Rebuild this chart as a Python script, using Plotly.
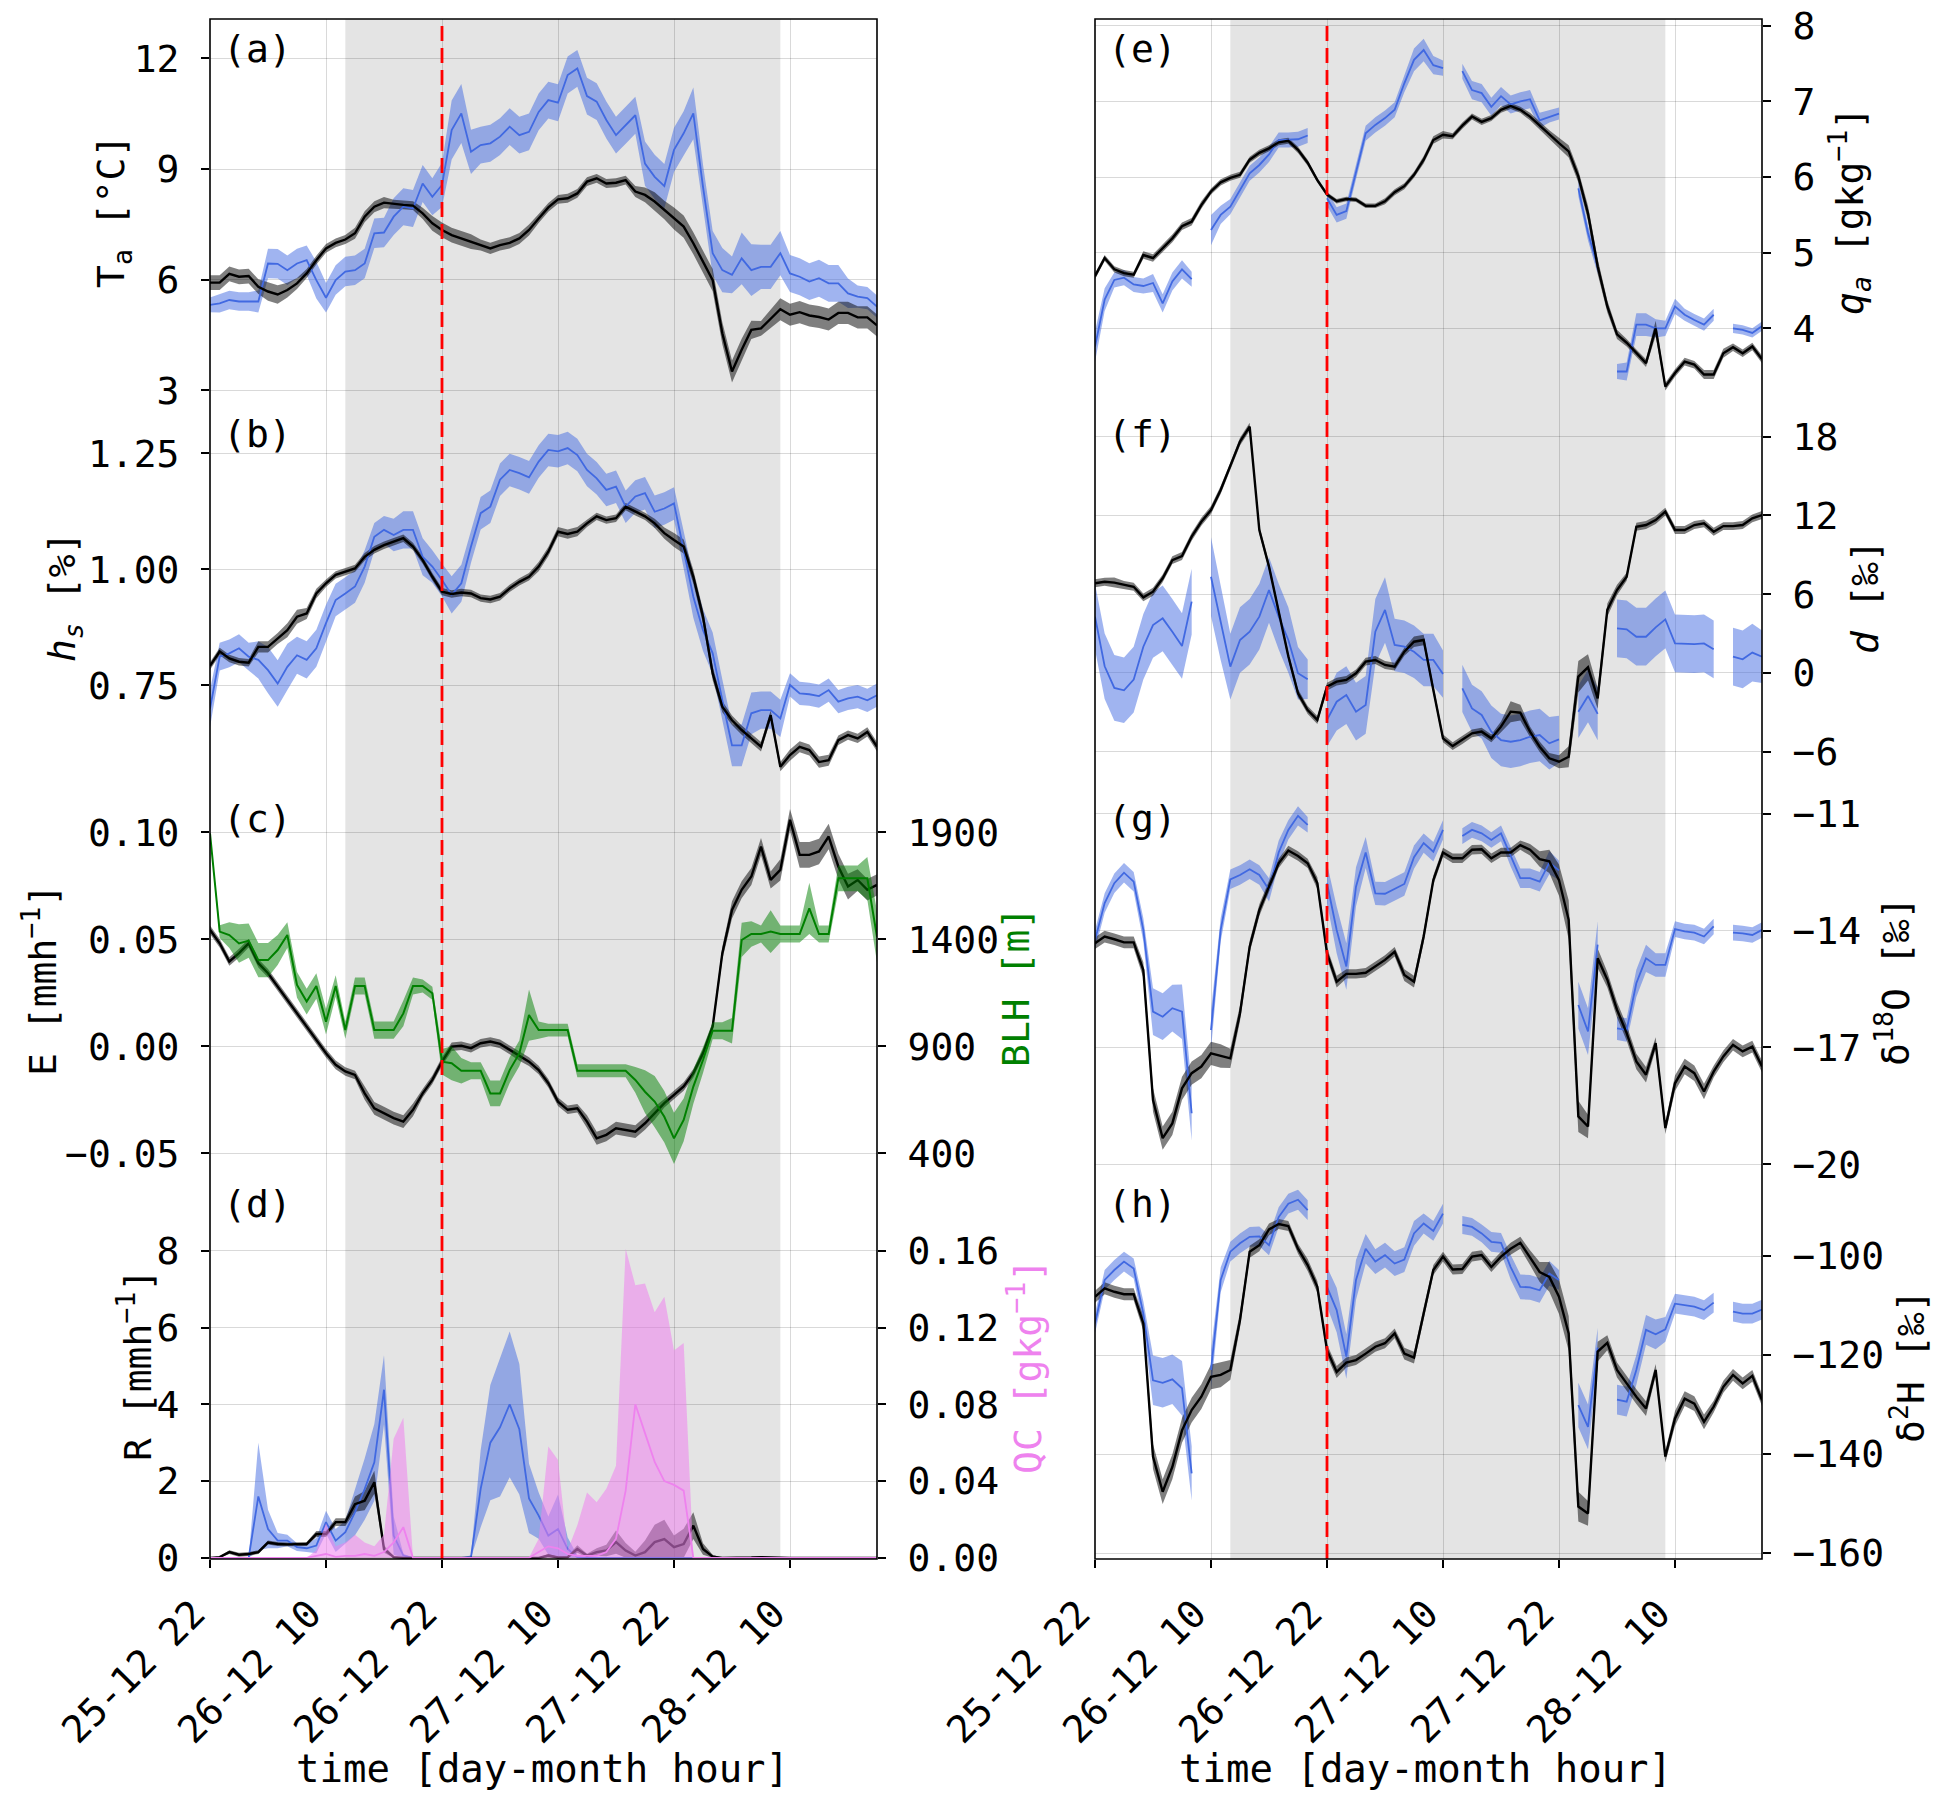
import numpy as np
import pandas as pd
import plotly.graph_objects as go

nan = float("nan")
W, H = 1943, 1801
# the page body keeps an 8px margin, so the figure itself is drawn a bit smaller
PAD = 8
FW, FH = W - 2 * PAD, H - 2 * PAD

# hourly time axis, 25-12 22h ... 28-12 19h
times = pd.date_range("2021-12-25 22:00", periods=70, freq="h")
tick_labels = ["25-12 22", "26-12 10", "26-12 22", "27-12 10", "27-12 22", "28-12 10"]
event_start = "2021-12-26 12:00"
event_end = "2021-12-28 09:00"
red_time = "2021-12-26 22:00"

# (a) air temperature
ta_obs = [5.32, 5.36, 5.45, 5.41, 5.41, 5.41, 6.44, 6.43, 6.26, 6.44,
          6.53, 5.99, 5.51, 5.99, 6.22, 6.26, 6.44, 7.26, 7.28, 7.71,
          7.98, 7.93, 8.61, 8.25, 8.57, 10.06, 10.51, 9.47, 9.65, 9.70,
          9.88, 10.15, 9.92, 10.01, 10.55, 10.87, 10.80, 11.55, 11.73, 10.98,
          10.83, 10.33, 9.92, 10.19, 10.46, 9.15, 8.79, 8.54, 9.52, 9.97,
          10.51, 8.52, 6.72, 6.26, 6.13, 6.58, 6.26, 6.35, 6.35, 6.72,
          6.17, 6.08, 5.95, 6.04, 5.90, 5.90, 5.63, 5.54, 5.50, 5.27]
ta_obs_sd = [0.2, 0.25, 0.25, 0.25, 0.25, 0.3, 0.4, 0.4, 0.4, 0.4,
             0.4, 0.5, 0.4, 0.4, 0.4, 0.4, 0.4, 0.4, 0.4, 0.5,
             0.5, 0.5, 0.5, 0.5, 0.6, 0.8, 0.8, 0.6, 0.5, 0.5,
             0.5, 0.5, 0.5, 0.5, 0.5, 0.5, 0.5, 0.5, 0.5, 0.5,
             0.5, 0.5, 0.5, 0.5, 0.5, 0.6, 0.6, 0.6, 0.6, 0.6,
             0.7, 0.6, 0.6, 0.6, 0.5, 0.7, 0.7, 0.6, 0.6, 0.6,
             0.5, 0.5, 0.5, 0.5, 0.5, 0.5, 0.4, 0.3, 0.3, 0.3]
ta_mod = [5.92, 5.92, 6.16, 6.08, 6.10, 5.81, 5.68, 5.60, 5.72, 5.90,
          6.17, 6.53, 6.85, 7.00, 7.09, 7.26, 7.71, 7.98, 8.09, 8.05,
          8.03, 8.01, 7.80, 7.53, 7.35, 7.21, 7.12, 7.03, 6.94, 6.85,
          6.94, 7.00, 7.12, 7.35, 7.66, 7.96, 8.18, 8.21, 8.34, 8.66,
          8.75, 8.61, 8.63, 8.70, 8.39, 8.30, 8.12, 7.89, 7.66, 7.44,
          6.99, 6.49, 5.99, 4.55, 3.51, 4.10, 4.64, 4.68, 4.95, 5.20,
          5.05, 5.12, 5.03, 4.99, 4.92, 5.10, 5.10, 4.98, 4.98, 4.76]
ta_mod_sd = [0.2, 0.2, 0.2, 0.2, 0.2, 0.2, 0.25, 0.25, 0.2, 0.15,
             0.12, 0.12, 0.12, 0.12, 0.12, 0.15, 0.15, 0.15, 0.15, 0.12,
             0.12, 0.12, 0.15, 0.2, 0.2, 0.2, 0.2, 0.2, 0.15, 0.15,
             0.15, 0.15, 0.15, 0.15, 0.12, 0.12, 0.12, 0.12, 0.12, 0.12,
             0.12, 0.12, 0.12, 0.12, 0.15, 0.2, 0.25, 0.25, 0.3, 0.3,
             0.3, 0.3, 0.3, 0.3, 0.3, 0.3, 0.25, 0.2, 0.25, 0.3,
             0.3, 0.3, 0.3, 0.3, 0.3, 0.3, 0.3, 0.3, 0.3, 0.3]

# (b) hs
hs_obs = [0.70, 0.812, 0.819, 0.830, 0.812, 0.805, 0.783, 0.754, 0.790, 0.815,
          0.805, 0.830, 0.884, 0.934, 0.948, 0.963, 1.006, 1.070, 1.085, 1.074,
          1.085, 1.085, 1.027, 1.006, 0.977, 0.945, 0.970, 1.049, 1.121, 1.135,
          1.193, 1.214, 1.207, 1.198, 1.232, 1.257, 1.254, 1.261, 1.246, 1.214,
          1.196, 1.171, 1.178, 1.135, 1.157, 1.164, 1.124, 1.131, 1.142, 1.042,
          0.941, 0.869, 0.819, 0.718, 0.621, 0.621, 0.690, 0.697, 0.697, 0.679,
          0.751, 0.733, 0.731, 0.727, 0.740, 0.715, 0.722, 0.726, 0.718, 0.729]
hs_obs_sd = [0.04, 0.03, 0.03, 0.03, 0.03, 0.04, 0.05, 0.05, 0.05, 0.04,
             0.04, 0.04, 0.04, 0.035, 0.035, 0.035, 0.035, 0.03, 0.03, 0.035,
             0.04, 0.04, 0.04, 0.035, 0.035, 0.04, 0.04, 0.035, 0.035, 0.035,
             0.035, 0.035, 0.035, 0.035, 0.035, 0.035, 0.035, 0.035, 0.035, 0.035,
             0.035, 0.035, 0.035, 0.035, 0.035, 0.035, 0.035, 0.035, 0.035, 0.04,
             0.045, 0.045, 0.045, 0.045, 0.045, 0.045, 0.045, 0.04, 0.04, 0.04,
             0.025, 0.025, 0.025, 0.025, 0.025, 0.025, 0.025, 0.025, 0.025, 0.025]
hs_mod = [0.792, 0.823, 0.808, 0.801, 0.799, 0.833, 0.833, 0.851, 0.869, 0.898,
          0.905, 0.948, 0.970, 0.988, 0.995, 1.002, 1.027, 1.042, 1.052, 1.060,
          1.067, 1.049, 1.020, 0.984, 0.952, 0.947, 0.950, 0.948, 0.938, 0.935,
          0.941, 0.959, 0.973, 0.984, 1.006, 1.038, 1.081, 1.076, 1.081, 1.099,
          1.114, 1.106, 1.110, 1.135, 1.124, 1.114, 1.099, 1.078, 1.063, 1.049,
          0.984, 0.898, 0.776, 0.704, 0.675, 0.654, 0.636, 0.618, 0.686, 0.575,
          0.600, 0.618, 0.611, 0.585, 0.589, 0.632, 0.643, 0.636, 0.650, 0.618]
hs_mod_sd = [0.008, 0.008, 0.008, 0.008, 0.008, 0.012, 0.012, 0.012, 0.015, 0.015,
             0.012, 0.01, 0.008, 0.008, 0.008, 0.008, 0.008, 0.008, 0.008, 0.008,
             0.008, 0.008, 0.008, 0.008, 0.008, 0.008, 0.008, 0.008, 0.008, 0.008,
             0.008, 0.008, 0.008, 0.008, 0.01, 0.01, 0.01, 0.01, 0.01, 0.008,
             0.008, 0.008, 0.008, 0.008, 0.008, 0.008, 0.01, 0.012, 0.015, 0.015,
             0.015, 0.015, 0.015, 0.012, 0.01, 0.01, 0.01, 0.01, 0.01, 0.01,
             0.012, 0.012, 0.012, 0.012, 0.012, 0.01, 0.01, 0.01, 0.01, 0.01]

# (c) evaporation and boundary layer height
e_mod = [0.0544, 0.0481, 0.0396, 0.0435, 0.0481, 0.0388, 0.0341, 0.0279, 0.0217, 0.0154,
         0.0092, 0.0030, -0.0033, -0.0087, -0.0118, -0.0134, -0.0220, -0.0290, -0.0313, -0.0336,
         -0.0352, -0.0297, -0.0220, -0.0157, -0.0072, -0.0002, 0.0002, -0.0009, 0.0014, 0.0022,
         0.0011, -0.0017, -0.0048, -0.0072, -0.0111, -0.0173, -0.0259, -0.0297, -0.0290, -0.0352,
         -0.0430, -0.0414, -0.0383, -0.0391, -0.0399, -0.0360, -0.0313, -0.0266, -0.0227, -0.0188,
         -0.0126, -0.0033, 0.0092, 0.0435, 0.0637, 0.0731, 0.0793, 0.0933, 0.0777, 0.0824,
         0.1058, 0.0894, 0.0894, 0.0910, 0.0980, 0.0840, 0.0746, 0.0777, 0.0731, 0.0754]
e_mod_sd = [0.002, 0.002, 0.002, 0.002, 0.002, 0.002, 0.002, 0.002, 0.002, 0.002,
            0.002, 0.002, 0.002, 0.002, 0.002, 0.002, 0.003, 0.003, 0.003, 0.003,
            0.003, 0.003, 0.002, 0.002, 0.002, 0.002, 0.002, 0.002, 0.002, 0.002,
            0.002, 0.002, 0.002, 0.002, 0.002, 0.002, 0.002, 0.002, 0.002, 0.003,
            0.003, 0.003, 0.003, 0.003, 0.003, 0.003, 0.003, 0.002, 0.002, 0.002,
            0.002, 0.002, 0.002, 0.003, 0.004, 0.004, 0.004, 0.004, 0.004, 0.005,
            0.005, 0.006, 0.006, 0.006, 0.006, 0.006, 0.006, 0.005, 0.005, 0.005]
blh = [1895, 1436, 1420, 1381, 1394, 1303, 1303, 1350, 1420, 1187,
       1109, 1182, 1015, 1182, 976, 1182, 1182, 976, 976, 976,
       1054, 1182, 1182, 1148, 828, 821, 786, 786, 786, 680,
       680, 789, 867, 1046, 976, 976, 976, 976, 786, 786,
       786, 786, 786, 786, 743, 688, 642, 571, 470, 556,
       712, 836, 973, 973, 973, 1397, 1425, 1425, 1436, 1425,
       1425, 1425, 1545, 1425, 1425, 1685, 1685, 1685, 1685, 1412]
blh_sd = [0, 30, 60, 90, 80, 80, 80, 70, 60, 60,
          60, 60, 60, 50, 40, 40, 40, 40, 40, 40,
          60, 40, 30, 30, 60, 80, 60, 40, 40, 60,
          60, 60, 60, 120, 40, 30, 30, 30, 30, 30,
          30, 30, 30, 30, 60, 100, 120, 120, 120, 100,
          80, 60, 40, 40, 60, 80, 60, 40, 100, 40,
          40, 40, 120, 40, 40, 60, 60, 60, 100, 120]

# (d) rain and cloud water
r_obs = [0, 0, 0, 0, 0, 1.6, 0.75, 0.45, 0.45, 0.28,
         0.25, 0.32, 0.93, 0.45, 0.67, 1.19, 1.79, 2.49, 4.38, 0.58,
         0.06, 0, 0, 0, 0, 0, 0, 0.02, 1.8, 3.0,
         3.4, 4.0, 3.35, 1.55, 1.1, 0.58, 0.75, 0.23, 0.02, 0,
         0, 0, 0, 0, 0, 0, 0, 0, 0, 0,
         0, 0, 0, 0, 0, 0, 0, 0, 0, 0,
         0, 0, 0, 0, 0, 0, 0, 0, 0, 0]
r_obs_sd = [0, 0, 0, 0, 0, 1.4, 0.5, 0.2, 0.15, 0.1,
            0.1, 0.2, 0.3, 0.3, 0.3, 0.6, 0.8, 1.0, 0.9, 0.5,
            0.05, 0, 0, 0, 0, 0, 0, 0.05, 1.0, 1.5,
            1.8, 1.9, 1.7, 0.9, 0.6, 0.5, 0.9, 0.3, 0.05, 0,
            0, 0, 0, 0, 0, 0, 0, 0, 0, 0,
            0, 0, 0, 0, 0, 0, 0, 0, 0, 0,
            0, 0, 0, 0, 0, 0, 0, 0, 0, 0]
r_mod = [0, 0.02, 0.15, 0.08, 0.1, 0.15, 0.4, 0.36, 0.35, 0.35,
         0.36, 0.62, 0.62, 0.93, 0.93, 1.4, 1.49, 1.97, 0.23, 0.02,
         0, 0, 0, 0, 0, 0, 0, 0, 0, 0,
         0, 0, 0, 0, 0, 0.06, 0.01, 0.02, 0.23, 0.06,
         0.15, 0.19, 0.41, 0.19, 0.06, 0.15, 0.41, 0.49, 0.28, 0.36,
         0.84, 0.23, 0.03, 0, 0, 0.01, 0.01, 0.02, 0.01, 0,
         0, 0, 0, 0, 0, 0, 0, 0, 0, 0]
r_mod_sd = [0, 0.02, 0.05, 0.05, 0.05, 0.05, 0.05, 0.05, 0.05, 0.05,
            0.05, 0.08, 0.08, 0.1, 0.1, 0.2, 0.25, 0.3, 0.1, 0.02,
            0, 0, 0, 0, 0, 0, 0, 0, 0, 0,
            0, 0, 0, 0, 0, 0.05, 0.02, 0.02, 0.1, 0.05,
            0.1, 0.15, 0.3, 0.2, 0.1, 0.3, 0.45, 0.5, 0.3, 0.4,
            0.35, 0.15, 0.05, 0, 0, 0, 0, 0, 0, 0,
            0, 0, 0, 0, 0, 0, 0, 0, 0, 0]
qc = [0, 0, 0, 0, 0, 0, 0, 0, 0, 0,
      0, 0.001, 0.002, 0.0005, 0.001, 0.001, 0.002, 0.001, 0.003, 0.008,
      0.016, 0, 0, 0, 0, 0, 0, 0, 0, 0,
      0, 0, 0, 0, 0.003, 0.006, 0.005, 0.002, 0.001, 0.001,
      0.001, 0.003, 0.01, 0.035, 0.08, 0.065, 0.05, 0.04, 0.038, 0.035,
      0, 0, 0, 0, 0, 0, 0, 0, 0, 0,
      0, 0, 0, 0, 0, 0, 0, 0, 0, 0]
qc_max = [0, 0, 0, 0, 0, 0, 0, 0, 0, 0,
          0, 0.004, 0.018, 0.006, 0.008, 0.012, 0.008, 0.006, 0.012, 0.062,
          0.073, 0, 0, 0, 0, 0, 0, 0, 0, 0,
          0, 0, 0, 0, 0.01, 0.058, 0.051, 0.004, 0.017, 0.034,
          0.029, 0.036, 0.048, 0.161, 0.142, 0.143, 0.128, 0.136, 0.108, 0.112,
          0, 0, 0, 0, 0, 0, 0, 0, 0, 0,
          0, 0, 0, 0, 0, 0, 0, 0, 0, 0]

# (e) specific humidity
q_obs = [3.76, 4.38, 4.64, 4.67, 4.58, 4.56, 4.60, 4.33, 4.62, 4.78,
         4.65, nan, 5.30, 5.50, 5.61, 5.83, 6.05, 6.16, 6.30, 6.49,
         6.49, 6.50, 6.55, nan, 5.72, 5.50, 5.55, 6.07, 6.58, 6.69,
         6.78, 6.89, 7.24, 7.55, 7.68, 7.48, 7.44, nan, 7.40, 7.15,
         7.11, 6.93, 7.07, 6.96, 7.00, 7.03, 6.75, 6.80, 6.84, nan,
         5.85, 5.26, 4.82, nan, 3.43, 3.43, 4.05, 4.05, 4.00, 4.00,
         4.29, 4.18, 4.11, 4.05, 4.18, nan, 4.00, 3.98, 3.94, 4.03]
q_obs_sd = [0.2, 0.15, 0.1, 0.1, 0.1, 0.1, 0.12, 0.12, 0.12, 0.12,
            0.1, 0, 0.2, 0.12, 0.1, 0.1, 0.1, 0.1, 0.1, 0.1,
            0.1, 0.1, 0.1, 0, 0.1, 0.1, 0.1, 0.1, 0.1, 0.1,
            0.1, 0.1, 0.12, 0.15, 0.15, 0.12, 0.1, 0, 0.1, 0.12,
            0.12, 0.12, 0.12, 0.12, 0.12, 0.12, 0.1, 0.08, 0.08, 0,
            0.1, 0.1, 0.1, 0, 0.1, 0.12, 0.15, 0.15, 0.12, 0.1,
            0.1, 0.08, 0.08, 0.08, 0.08, 0, 0.06, 0.06, 0.06, 0.06]
q_mod = [4.69, 4.93, 4.78, 4.73, 4.71, 4.97, 4.93, 5.06, 5.19, 5.35,
         5.41, 5.63, 5.81, 5.93, 5.99, 6.03, 6.23, 6.32, 6.38, 6.46,
         6.48, 6.36, 6.19, 5.96, 5.77, 5.68, 5.71, 5.70, 5.62, 5.62,
         5.68, 5.80, 5.88, 6.03, 6.23, 6.49, 6.56, 6.54, 6.68, 6.80,
         6.73, 6.78, 6.89, 6.94, 6.89, 6.80, 6.68, 6.56, 6.45, 6.34,
         6.01, 5.52, 4.82, 4.29, 3.92, 3.81, 3.67, 3.54, 4.00, 3.23,
         3.41, 3.56, 3.52, 3.39, 3.39, 3.67, 3.75, 3.67, 3.76, 3.59]
q_mod_sd = [0.04, 0.04, 0.04, 0.04, 0.04, 0.05, 0.05, 0.05, 0.05, 0.05,
            0.05, 0.05, 0.04, 0.04, 0.04, 0.04, 0.04, 0.04, 0.04, 0.04,
            0.04, 0.04, 0.04, 0.03, 0.03, 0.03, 0.03, 0.03, 0.03, 0.03,
            0.04, 0.04, 0.04, 0.04, 0.05, 0.05, 0.05, 0.04, 0.04, 0.04,
            0.04, 0.04, 0.04, 0.04, 0.04, 0.05, 0.05, 0.06, 0.07, 0.08,
            0.08, 0.1, 0.1, 0.08, 0.06, 0.05, 0.05, 0.05, 0.1, 0.05,
            0.05, 0.05, 0.05, 0.06, 0.06, 0.06, 0.05, 0.05, 0.05, 0.05]

# (f) deuterium excess
d_obs = [4.29, 0.51, -1.14, -1.32, -0.51, 2.00, 3.65, 4.16, 3.14, 2.05,
         5.43, nan, 7.33, 3.78, 0.48, 2.51, 3.14, 4.29, 6.32, 4.29,
         2.51, -0.02, -0.48, nan, -3.58, -2.19, -1.68, -2.95, -2.44, 3.14,
         4.80, 2.13, 2.00, 1.62, 0.99, 0.99, -0.08, nan, -1.17, -2.70,
         -3.20, -4.47, -5.11, -5.24, -5.11, -4.86, -4.73, -5.36, -5.06, nan,
         -2.95, -1.75, -3.12, nan, 3.40, 3.32, 2.76, 2.76, 3.47, 4.08,
         2.25, 2.20, 2.20, 2.25, 1.80, nan, 1.24, 1.04, 1.55, 1.24]
d_obs_sd = [2.5, 2.5, 2.5, 2.5, 2.5, 2.5, 2.5, 2.5, 2.5, 2.5,
            2.5, 0, 3.0, 2.8, 2.5, 2.5, 2.5, 2.5, 2.5, 2.5,
            2.5, 2.0, 1.5, 0, 2.0, 2.2, 2.2, 2.2, 2.2, 2.5,
            2.5, 2.0, 2.0, 2.0, 2.0, 2.0, 1.8, 0, 1.8, 1.8,
            1.8, 2.0, 2.0, 2.0, 2.0, 2.0, 2.0, 2.0, 1.8, 0,
            2.0, 2.0, 2.0, 0, 2.2, 2.2, 2.2, 2.2, 2.2, 2.2,
            2.2, 2.2, 2.2, 2.2, 2.2, 0, 2.2, 2.2, 2.2, 2.0]
d_mod = [6.83, 6.95, 6.88, 6.70, 6.57, 5.76, 6.19, 7.21, 8.60, 8.91,
         10.38, 11.52, 12.41, 13.94, 15.71, 17.62, 18.76, 10.89, 8.10, 4.80,
         1.27, -1.55, -2.82, -3.58, -1.04, -0.66, -0.53, -0.03, 0.86, 0.99,
         0.61, 0.48, 1.62, 2.38, 2.51, -1.30, -4.98, -5.57, -5.11, -4.60,
         -4.47, -4.98, -4.09, -2.95, -3.03, -4.47, -5.62, -6.50, -6.76, -6.38,
         -0.28, 0.43, -1.93, 4.80, 6.32, 7.33, 11.14, 11.27, 11.65, 12.29,
         10.89, 10.89, 11.27, 11.40, 10.76, 11.19, 11.19, 11.27, 11.78, 12.03]
d_mod_sd = [0.3, 0.3, 0.4, 0.3, 0.3, 0.3, 0.3, 0.3, 0.3, 0.3,
            0.3, 0.3, 0.3, 0.3, 0.3, 0.3, 0.3, 0.3, 0.3, 0.3,
            0.3, 0.3, 0.3, 0.3, 0.3, 0.3, 0.3, 0.3, 0.3, 0.3,
            0.3, 0.3, 0.3, 0.4, 0.4, 0.4, 0.3, 0.3, 0.3, 0.3,
            0.3, 0.3, 0.4, 0.8, 0.6, 0.4, 0.4, 0.4, 0.5, 0.8,
            1.2, 1.0, 0.8, 0.5, 0.4, 0.3, 0.3, 0.3, 0.3, 0.3,
            0.3, 0.3, 0.3, 0.3, 0.3, 0.3, 0.3, 0.3, 0.3, 0.3]

# (g) d18O
o18_obs = [-14.24, -13.29, -12.78, -12.51, -12.74, -13.98, -16.08, -16.21, -15.99, -16.08,
           -18.69, nan, -16.55, -13.98, -12.68, -12.57, -12.42, -12.57, -12.95, -11.99,
           -11.41, -11.05, -11.28, nan, -12.78, -13.98, -14.92, -12.87, -11.99, -13.04,
           -13.05, -12.93, -12.80, -12.11, -11.75, -11.97, -11.41, nan, -11.57, -11.41,
           -11.50, -11.67, -11.50, -12.10, -12.65, -12.65, -12.74, -12.25, -12.45, nan,
           -15.91, -16.59, -14.36, nan, -16.51, -16.55, -15.35, -14.71, -14.88, -14.88,
           -13.96, -14.02, -14.05, -14.15, -13.89, nan, -14.05, -14.07, -14.11, -13.98]
o18_obs_sd = [0.25, 0.25, 0.25, 0.25, 0.25, 0.3, 0.6, 0.6, 0.6, 0.7,
              0.7, 0, 0.5, 0.3, 0.25, 0.25, 0.25, 0.25, 0.3, 0.3,
              0.25, 0.25, 0.2, 0, 0.5, 0.6, 0.6, 0.5, 0.4, 0.3,
              0.3, 0.3, 0.3, 0.3, 0.25, 0.25, 0.25, 0, 0.2, 0.2,
              0.2, 0.2, 0.2, 0.25, 0.25, 0.25, 0.25, 0.3, 0.25, 0,
              0.6, 0.6, 0.6, 0, 0.3, 0.3, 0.35, 0.35, 0.3, 0.3,
              0.2, 0.2, 0.2, 0.2, 0.2, 0, 0.2, 0.2, 0.2, 0.2]
o18_mod = [-14.32, -14.15, -14.22, -14.30, -14.30, -15.01, -18.35, -19.33, -18.95, -18.05,
           -17.66, -17.49, -17.15, -17.22, -17.28, -16.12, -14.41, -13.47, -12.87, -12.27,
           -11.94, -12.08, -12.27, -12.78, -14.58, -15.31, -15.11, -15.11, -15.08, -14.92,
           -14.75, -14.54, -15.14, -15.31, -14.15, -12.70, -11.99, -12.14, -12.14, -11.92,
           -11.91, -12.14, -11.99, -11.99, -11.80, -11.92, -12.16, -12.22, -12.70, -13.72,
           -18.77, -19.03, -14.71, -15.26, -16.03, -16.63, -17.36, -17.70, -16.89, -19.07,
           -17.92, -17.49, -17.66, -18.13, -17.62, -17.23, -16.93, -17.10, -16.98, -17.49]
o18_mod_sd = [0.15, 0.15, 0.15, 0.15, 0.15, 0.2, 0.3, 0.3, 0.3, 0.3,
              0.3, 0.3, 0.3, 0.3, 0.25, 0.2, 0.15, 0.15, 0.15, 0.12,
              0.12, 0.12, 0.12, 0.15, 0.15, 0.15, 0.12, 0.12, 0.12, 0.12,
              0.12, 0.12, 0.15, 0.15, 0.15, 0.12, 0.12, 0.12, 0.12, 0.12,
              0.12, 0.12, 0.12, 0.12, 0.12, 0.15, 0.2, 0.3, 0.4, 0.5,
              0.4, 0.3, 0.25, 0.2, 0.2, 0.2, 0.2, 0.2, 0.15, 0.15,
              0.2, 0.2, 0.2, 0.2, 0.15, 0.15, 0.15, 0.15, 0.15, 0.15]

# (h) d2H
h2_obs = [-113.6, -104.8, -102.8, -101.1, -102.5, -111.6, -125.1, -125.6, -124.9, -126.7,
          -143.9, nan, -123.0, -104.8, -99.1, -97.4, -96.1, -96.0, -97.8, -92.1,
          -89.4, -88.6, -90.7, nan, -106.2, -110.9, -120.3, -104.8, -98.5, -101.1,
          -99.8, -101.5, -100.7, -95.4, -93.4, -94.9, -91.4, nan, -93.7, -94.1,
          -95.4, -97.1, -97.3, -102.2, -106.2, -106.3, -106.9, -103.5, -104.8, nan,
          -130.1, -134.5, -118.5, nan, -129.0, -129.4, -123.0, -114.9, -115.8, -114.8,
          -109.6, -109.9, -110.2, -110.9, -109.4, nan, -111.2, -111.6, -111.6, -110.8]
h2_obs_sd = [2.0, 2.0, 2.0, 2.0, 2.0, 2.5, 5.0, 5.0, 5.0, 5.5,
             5.5, 0, 4.0, 2.5, 2.0, 2.0, 2.0, 2.0, 2.0, 2.0,
             2.0, 2.0, 2.0, 0, 4.0, 4.5, 4.5, 4.0, 3.0, 2.5,
             2.5, 2.5, 2.5, 2.5, 2.0, 2.0, 2.0, 0, 1.8, 1.8,
             1.8, 2.0, 2.0, 2.5, 2.5, 2.5, 2.5, 2.5, 2.0, 0,
             4.5, 4.5, 4.0, 0, 3.0, 3.0, 3.0, 3.0, 3.0, 2.5,
             2.0, 2.0, 2.0, 2.0, 2.0, 0, 2.0, 2.0, 2.0, 2.0]
h2_mod = [-108.2, -106.5, -107.2, -107.7, -107.7, -113.6, -140.5, -147.6, -142.6, -135.2,
          -131.1, -128.4, -124.4, -124.0, -123.0, -112.9, -99.1, -97.8, -94.6, -93.5,
          -93.9, -98.5, -101.8, -106.2, -119.0, -123.4, -121.5, -121.0, -119.7, -118.3,
          -117.6, -115.6, -119.7, -120.5, -111.6, -102.8, -100.1, -102.7, -102.6, -100.1,
          -99.8, -102.2, -100.1, -98.5, -97.3, -100.3, -103.2, -104.2, -108.2, -115.6,
          -150.6, -152.0, -119.3, -117.5, -123.0, -125.7, -128.4, -130.8, -123.0, -140.5,
          -132.8, -128.8, -129.8, -133.5, -130.4, -126.4, -124.0, -125.7, -124.2, -129.1]
h2_mod_sd = [1.2, 1.2, 1.2, 1.2, 1.2, 1.5, 2.5, 2.5, 2.5, 2.5,
             2.5, 2.5, 2.5, 2.5, 2.0, 1.5, 1.2, 1.2, 1.2, 1.0,
             1.0, 1.0, 1.2, 1.2, 1.2, 1.2, 1.0, 1.0, 1.0, 1.0,
             1.0, 1.0, 1.2, 1.2, 1.2, 1.0, 1.0, 1.0, 1.0, 1.0,
             1.0, 1.0, 1.0, 1.2, 1.2, 1.5, 2.0, 3.0, 3.5, 3.5,
             3.0, 2.5, 2.0, 1.5, 1.5, 1.5, 1.5, 1.5, 1.2, 1.2,
             1.5, 1.5, 1.5, 1.5, 1.2, 1.2, 1.2, 1.2, 1.2, 1.2]

BLUE = "royalblue"
BLUE_F = "rgba(65,105,225,0.5)"
BLACK_F = "rgba(0,0,0,0.5)"
GREEN = "green"
GREEN_F = "rgba(0,128,0,0.5)"
VIOLET = "violet"
VIOLET_F = "rgba(238,130,238,0.55)"
FONT = "DejaVu Sans Mono"
FS = 38

fig = go.Figure()


def ref(n, kind):
    return kind if n == 1 else f"{kind}{n}"


def px(x):
    return (x - PAD) / FW


def py(y):
    return 1 - (y - PAD) / FH


def band(mean, sd, fill, line, lw, n, ya=None, floor=None):
    m = np.array(mean, float)
    s = np.array(sd, float)
    lo, hi = m - s, m + s
    if floor is not None:
        lo = np.maximum(lo, floor)
    xa, ya = ref(n, "x"), ya or ref(n, "y")
    idx = np.where(~np.isnan(m))[0]
    for seg in np.split(idx, np.where(np.diff(idx) > 1)[0] + 1):
        xs = list(times[seg])
        fig.add_trace(go.Scatter(x=xs + xs[::-1], y=list(hi[seg]) + list(lo[seg][::-1]),
                                 fill="toself", fillcolor=fill, line=dict(width=0),
                                 mode="lines", hoverinfo="skip", xaxis=xa, yaxis=ya))
    return go.Scatter(x=times, y=m, mode="lines", line=dict(color=line, width=lw),
                      connectgaps=False, xaxis=xa, yaxis=ya)


panels = [
    (ta_obs, ta_obs_sd, ta_mod, ta_mod_sd),
    (hs_obs, hs_obs_sd, hs_mod, hs_mod_sd),
    None,
    None,
    (q_obs, q_obs_sd, q_mod, q_mod_sd),
    (d_obs, d_obs_sd, d_mod, d_mod_sd),
    (o18_obs, o18_obs_sd, o18_mod, o18_mod_sd),
    (h2_obs, h2_obs_sd, h2_mod, h2_mod_sd),
]
for k, p in enumerate(panels):
    if p is None:
        continue
    n = k + 1
    lb = band(p[0], p[1], BLUE_F, BLUE, 1.8, n)
    lk = band(p[2], p[3], BLACK_F, "black", 2.4, n)
    fig.add_trace(lb)
    fig.add_trace(lk)

# (c)
lk = band(e_mod, e_mod_sd, BLACK_F, "black", 2.4, 3)
fig.add_trace(lk)
lg = band(blh, blh_sd, GREEN_F, GREEN, 2.0, 3, ya="y9")
fig.add_trace(lg)

# (d)
lb = band(r_obs, r_obs_sd, BLUE_F, BLUE, 1.8, 4, floor=0)
lk = band(r_mod, r_mod_sd, BLACK_F, "black", 2.4, 4, floor=0)
fig.add_trace(lb)
fig.add_trace(lk)
fig.add_trace(go.Scatter(x=times, y=qc_max, fill="tozeroy", fillcolor=VIOLET_F,
                         line=dict(width=0), mode="lines", xaxis="x4", yaxis="y10"))
fig.add_trace(go.Scatter(x=times, y=qc, mode="lines", line=dict(color=VIOLET, width=1.8),
                         xaxis="x4", yaxis="y10"))

# ---- layout geometry (reference pixels)
col_px = [(210, 877), (1095, 1762)]
top_px, row_px = 19, 385
y_ranges = [[2.63, 13.07], [0.527, 1.356], [-0.0597, 0.1202], [-0.03, 10.0],
            [3.0, 8.09], [-8.84, 20.49], [-20.25, -10.36], [-161.2, -83.4]]
y_ticks = [[3, 6, 9, 12], [0.75, 1.0, 1.25], [-0.05, 0, 0.05, 0.10], [0, 2, 4, 6, 8],
           [4, 5, 6, 7, 8], [-6, 0, 6, 12, 18], [-20, -17, -14, -11], [-160, -140, -120, -100]]
y_text = [["3", "6", "9", "12"], ["0.75", "1.00", "1.25"], ["−0.05", "0.00", "0.05", "0.10"],
          ["0", "2", "4", "6", "8"], ["4", "5", "6", "7", "8"], ["−6", "0", "6", "12", "18"],
          ["−20", "−17", "−14", "−11"], ["−160", "−140", "−120", "−100"]]

GRID = "rgba(0,0,0,0.15)"
tickfont = dict(family=FONT, size=FS, color="black")
layout = dict(width=FW, height=FH, margin=dict(l=0, r=0, t=0, b=0, autoexpand=False),
              paper_bgcolor="white", plot_bgcolor="rgba(0,0,0,0)",
              font=dict(family=FONT, size=FS, color="black"),
              showlegend=False, hovermode=False)

tickvals = [str(t) for t in times[::12]]
for k in range(8):
    n = k + 1
    col, row = divmod(k, 4)
    x0, x1 = col_px[col]
    ytop = top_px + row_px * row
    ybot = ytop + row_px
    bottom = row == 3
    layout[("xaxis" if n == 1 else f"xaxis{n}")] = dict(
        domain=[px(x0), px(x1)], anchor=ref(n, "y"), automargin=False,
        range=[str(times[0]), str(times[-1])],
        tickmode="array", tickvals=tickvals, ticktext=tick_labels,
        showticklabels=bottom, ticks="outside" if bottom else "",
        ticklen=8, tickwidth=1.6, tickcolor="black", tickangle=-45,
        ticklabelstandoff=8, ticklabelshift=-16, ticklabeloverflow="allow",
        tickfont=tickfont, showgrid=True, gridcolor=GRID, gridwidth=1.3,
        zeroline=False, showline=False)
    layout[("yaxis" if n == 1 else f"yaxis{n}")] = dict(
        domain=[py(ybot), py(ytop)], anchor=ref(n, "x"), automargin=False,
        side="left" if col == 0 else "right",
        range=y_ranges[k], tickmode="array", tickvals=y_ticks[k], ticktext=y_text[k],
        ticks="outside", ticklen=8, tickwidth=1.6, tickcolor="black",
        ticklabelstandoff=14, ticklabeloverflow="allow", tickfont=tickfont,
        showgrid=True, gridcolor=GRID, gridwidth=1.3, zeroline=False, showline=False)

layout["yaxis9"] = dict(overlaying="y3", anchor="x3", side="right", range=[303.5, 2102.5],
                        automargin=False, ticklabeloverflow="allow",
                        tickmode="array", tickvals=[400, 900, 1400, 1900],
                        ticktext=["400", "900", "1400", "1900"], ticks="outside",
                        ticklen=8, tickwidth=1.6, tickcolor="black", ticklabelstandoff=14,
                        tickfont=tickfont, showgrid=False, zeroline=False, showline=False)
layout["yaxis10"] = dict(overlaying="y4", anchor="x4", side="right", range=[-0.0006, 0.2],
                         automargin=False, ticklabeloverflow="allow",
                         tickmode="array", tickvals=[0, 0.04, 0.08, 0.12, 0.16],
                         ticktext=["0.00", "0.04", "0.08", "0.12", "0.16"], ticks="outside",
                         ticklen=8, tickwidth=1.6, tickcolor="black", ticklabelstandoff=14,
                         tickfont=tickfont, showgrid=False, zeroline=False, showline=False)

shapes = []
y_lo = py(top_px + 4 * row_px)
y_hi = py(top_px)
for col in range(2):
    xr = ref(col * 4 + 1, "x")
    x0, x1 = col_px[col]
    shapes.append(dict(type="rect", xref=xr, yref="paper", x0=event_start, x1=event_end,
                       y0=y_lo, y1=y_hi, fillcolor="#e4e4e4", line=dict(width=0), layer="below"))
    shapes.append(dict(type="line", xref=xr, yref="paper", x0=red_time, x1=red_time,
                       y0=y_lo, y1=y_hi, line=dict(color="red", width=2.8, dash="15px,7px"),
                       layer="above"))
    shapes.append(dict(type="rect", xref="paper", yref="paper", x0=px(x0), x1=px(x1),
                       y0=y_lo, y1=y_hi, line=dict(color="black", width=1.6),
                       fillcolor="rgba(0,0,0,0)", layer="above"))
layout["shapes"] = shapes

ann = []
letters = ["(a)", "(b)", "(c)", "(d)", "(e)", "(f)", "(g)", "(h)"]
for k, lab in enumerate(letters):
    col, row = divmod(k, 4)
    ann.append(dict(text=lab, xref="paper", yref="paper", showarrow=False,
                    x=px(col_px[col][0] + 11), y=py(top_px + row_px * row + 30),
                    xanchor="left", yanchor="middle", font=dict(size=FS)))

titles = [
    ("T<sub>a</sub> [°C]", 113, 212, "black"),
    ("<i>h</i><sub><i>s</i></sub> [%]", 65, 597, "black"),
    ("E [mmh<sup>−1</sup>]", 40, 980, "black"),
    ("BLH [m]", 1016, 987, "green"),
    ("R [mmh<sup>−1</sup>]", 135, 1365, "black"),
    ("QC [gkg<sup>−1</sup>]", 1025, 1366, "violet"),
    ("<i>q</i><sub><i>a</i></sub> [gkg<sup>−1</sup>]", 1849, 211, "black"),
    ("<i>d</i> [‰]", 1865, 597, "black"),
    ("δ<sup>18</sup>O [‰]", 1893, 982, "black"),
    ("δ<sup>2</sup>H [‰]", 1908, 1367, "black"),
]
for txt, tx, ty, c in titles:
    ann.append(dict(text=txt, xref="paper", yref="paper", showarrow=False, textangle=-90,
                    x=px(tx), y=py(ty), xanchor="center", yanchor="middle",
                    font=dict(size=FS, color=c)))
for cx in (542, 1425):
    ann.append(dict(text="time [day-month hour]", xref="paper", yref="paper", showarrow=False,
                    x=px(cx), y=py(1768), xanchor="center", yanchor="middle",
                    font=dict(size=39)))
layout["annotations"] = ann

fig.update_layout(**layout)
fig.write_html("out.html")
